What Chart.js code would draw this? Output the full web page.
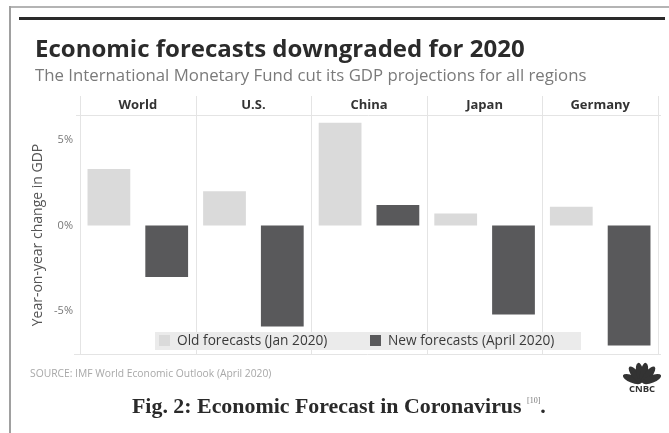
<!DOCTYPE html>
<html>
<head>
<meta charset="utf-8">
<title>Economic forecasts downgraded for 2020</title>
<script src="https://cdn.jsdelivr.net/npm/chart.js@4.4.1/dist/chart.umd.min.js"></script>
<style>
  html, body { margin: 0; padding: 0; background: #fff; }
  #wrap { width: 669px; height: 433px; }
</style>
</head>
<body>
<div id="wrap"><canvas id="gdpChart" width="669" height="433"></canvas></div>
<script>
// IMF GDP growth forecasts for 2020, in percent
const regions = ["World", "U.S.", "China", "Japan", "Germany"];
const oldForecast = [3.3, 2.0, 6.0, 0.7, 1.1];
const newForecast = [-3.0, -5.9, 1.2, -5.2, -7.0];
const yTicks = [-5, 0, 5];

const OLD_COLOR = "#dadada";
const NEW_COLOR = "#59595b";
const SANS = "'Open Sans', Lato, sans-serif";
const SERIF = "'Liberation Serif', 'DejaVu Serif', serif";

// page furniture: frame, headline, facet dividers, legend strip, source, caption, logo
const decor = {
    id: "decor",
    beforeDraw(chart) {
        const ctx = chart.ctx;
        ctx.save();
        ctx.fillStyle = "#fff";
        ctx.fillRect(0, 0, chart.width, chart.height);

        // outer frame
        ctx.fillStyle = "#b4b4b4";
        ctx.fillRect(9, 6, chart.width - 9, 2);
        ctx.fillStyle = "#a0a0a0";
        ctx.fillRect(9, 6, 2, chart.height - 6);

        // heavy rule above the headline
        ctx.fillStyle = "#2a2a2a";
        ctx.fillRect(19, 17, 646, 3);

        ctx.textBaseline = "alphabetic";
        ctx.fillStyle = "#2b2b2b";
        ctx.font = "bold 24px " + SANS;
        ctx.fillText("Economic forecasts downgraded for 2020", 35, 57);

        ctx.fillStyle = "#7a7a7a";
        ctx.font = "16.8px " + SANS;
        ctx.fillText("The International Monetary Fund cut its GDP projections for all regions", 35, 81);
        ctx.restore();
    },
    beforeDatasetsDraw(chart) {
        const ctx = chart.ctx;
        const x = chart.scales.x;
        const area = chart.chartArea;
        const half = (x.getPixelForValue(1) - x.getPixelForValue(0)) / 2;
        ctx.save();
        ctx.strokeStyle = "#e4e4e4";
        ctx.lineWidth = 1;
        ctx.beginPath();
        for (let i = 0; i <= regions.length; i++) {
            const px = Math.round(x.getPixelForValue(i) - half) + 0.5;
            ctx.moveTo(px, 96);
            ctx.lineTo(px, area.bottom);
        }
        // header underline and bottom rule
        ctx.moveTo(76, area.top - 0.5);
        ctx.lineTo(area.right + 3, area.top - 0.5);
        ctx.moveTo(74, area.bottom + 0.5);
        ctx.lineTo(area.right + 3, area.bottom + 0.5);
        ctx.stroke();
        ctx.restore();
    },
    afterDatasetsDraw(chart) {
        const ctx = chart.ctx;
        const sets = chart.data.datasets;
        ctx.save();

        // legend strip inside the plot
        ctx.fillStyle = "#ebebeb";
        ctx.fillRect(155, 332, 426, 18);
        const itemX = [159, 370];
        ctx.font = "13.7px " + SANS;
        ctx.textBaseline = "middle";
        sets.forEach((ds, i) => {
            ctx.fillStyle = ds.backgroundColor;
            ctx.fillRect(itemX[i], 335, 11, 11);
            ctx.fillStyle = "#3a3a3a";
            ctx.fillText(ds.label, itemX[i] + 18, 341.5);
        });

        // source line
        ctx.fillStyle = "#a8a8a8";
        ctx.font = "10.3px " + SANS;
        ctx.textBaseline = "alphabetic";
        ctx.fillText("SOURCE: IMF World Economic Outlook (April 2020)", 30, 377);

        // figure caption
        ctx.fillStyle = "#2a2a2a";
        ctx.font = "bold 21.9px " + SERIF;
        const cap = "Fig. 2: Economic Forecast in Coronavirus ";
        ctx.fillText(cap, 132, 413);
        let cx = 132 + ctx.measureText(cap).width;
        ctx.fillStyle = "#777";
        ctx.font = "8px " + SERIF;
        ctx.fillText("[10]", cx, 403);
        cx += ctx.measureText("[10]").width;
        ctx.fillStyle = "#2a2a2a";
        ctx.font = "bold 21.9px " + SERIF;
        ctx.fillText(".", cx, 413);

        // small peacock mark
        const lx = 642, ly = 383;
        ctx.fillStyle = "#333";
        const angles = [-158, -128, -101, -79, -52, -22];
        angles.forEach(a => {
            const r = a * Math.PI / 180;
            ctx.save();
            ctx.translate(lx + Math.cos(r) * 10.5, ly + Math.sin(r) * 10.5);
            ctx.rotate(r + Math.PI / 2);
            ctx.beginPath();
            ctx.ellipse(0, 0, 3.8, 10, 0, 0, Math.PI * 2);
            ctx.fill();
            ctx.restore();
        });
        ctx.font = "bold 9.5px " + SANS;
        ctx.textAlign = "center";
        ctx.fillText("CNBC", lx, ly + 9);
        ctx.restore();
    }
};

new Chart(document.getElementById("gdpChart"), {
    type: "bar",
    data: {
        labels: regions,
        datasets: [
            {
                label: "Old forecasts (Jan 2020)",
                data: oldForecast,
                backgroundColor: OLD_COLOR,
                categoryPercentage: 1.0,
                barPercentage: 0.74
            },
            {
                label: "New forecasts (April 2020)",
                data: newForecast,
                backgroundColor: NEW_COLOR,
                categoryPercentage: 1.0,
                barPercentage: 0.74
            }
        ]
    },
    options: {
        responsive: false,
        animation: false,
        layout: { padding: { top: 96, left: 30, right: 11, bottom: 79 } },
        plugins: {
            legend: { display: false },
            tooltip: { enabled: false }
        },
        scales: {
            x: {
                position: "top",
                grid: { display: false, drawTicks: false },
                border: { display: false },
                ticks: {
                    padding: 3,
                    color: "#333",
                    font: { family: SANS, size: 13, weight: "bold" }
                },
                afterFit: s => { s.height = 20; }
            },
            y: {
                min: -7.5,
                max: 6.4,
                grid: { display: false, drawTicks: false },
                border: { display: false },
                afterBuildTicks: s => { s.ticks = yTicks.map(v => ({ value: v })); },
                ticks: {
                    padding: 7,
                    color: "#777",
                    font: { family: SANS, size: 11 },
                    callback: v => v + "%"
                },
                title: {
                    display: true,
                    text: "Year-on-year change in GDP",
                    color: "#555",
                    padding: 0,
                    font: { family: SANS, size: 14 }
                },
                afterFit: s => { s.width = 50; }
            }
        }
    },
    plugins: [decor]
});
</script>
</body>
</html>
